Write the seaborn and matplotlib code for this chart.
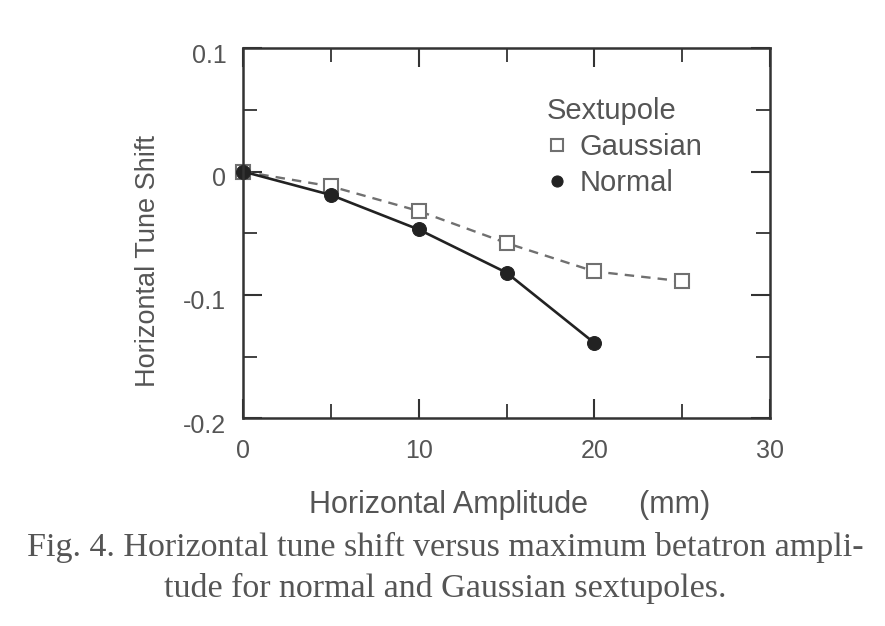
import matplotlib
matplotlib.use("Agg")
import matplotlib.pyplot as plt
import matplotlib.transforms as mtransforms
import seaborn as sns
import pandas as pd
from matplotlib.ticker import MultipleLocator

# Data
amp_normal = [0, 5, 10, 15, 20]
shift_normal = [0.0, -0.019, -0.047, -0.082, -0.139]
amp_gauss = [0, 5, 10, 15, 20, 25]
shift_gauss = [0.0, -0.012, -0.032, -0.058, -0.081, -0.089]

df = pd.DataFrame({
    "amp": amp_gauss + amp_normal,
    "shift": shift_gauss + shift_normal,
    "Sextupole": ["Gaussian"] * len(amp_gauss) + ["Normal"] * len(amp_normal),
})

sns.set_style("white")
plt.rcParams["font.family"] = ["Liberation Sans", "DejaVu Sans"]

fig = plt.figure(figsize=(8.85, 6.26), dpi=100)
ax = fig.add_axes([0.2746, 0.332, 0.5955, 0.591])

ink = "#333333"
txt = "#555555"
sns.lineplot(data=df[df.Sextupole == "Gaussian"], x="amp", y="shift", ax=ax,
             color="#707070", linestyle=(0, (4, 3)), linewidth=1.7,
             marker="s", markersize=10, markerfacecolor="white",
             markeredgecolor="#707070", markeredgewidth=1.5, label="Gaussian",
             clip_on=False)
sns.lineplot(data=df[df.Sextupole == "Normal"], x="amp", y="shift", ax=ax,
             color="#222222", linestyle="-", linewidth=1.9,
             marker="o", markersize=10, markerfacecolor="#222222",
             markeredgecolor="#222222", label="Normal", clip_on=False)

ax.set_xlim(0, 30)
ax.set_ylim(-0.2, 0.1)
ax.xaxis.set_minor_locator(MultipleLocator(5))
ax.yaxis.set_minor_locator(MultipleLocator(0.05))
ax.set_xticks([0, 10, 20, 30])
ax.set_xticklabels(["0", "10", "20", "30"])
ax.set_yticks([-0.2, -0.1, 0, 0.1])
ax.set_yticklabels(["-0.2", "-0.1", "0", "0.1"])
ax.tick_params(which="both", direction="in", top=True, right=True,
               bottom=True, left=True, colors=ink, labelcolor=txt,
               labelsize=18)
ax.tick_params(which="major", length=14, width=1.5)
ax.tick_params(which="minor", length=10, width=1.3)
ax.tick_params(axis="x", which="major", pad=15)
ax.tick_params(axis="y", which="major", pad=12)
for s in ax.spines.values():
    s.set_color(ink)
    s.set_linewidth(1.8)

# scanned labels sit a little below their ticks
off = mtransforms.ScaledTranslation(0, -5 / 100, fig.dpi_scale_trans)
for lab in ax.get_yticklabels():
    lab.set_transform(lab.get_transform() + off)

ax.set_xlabel("Horizontal Amplitude      (mm)", fontsize=22, color=txt)
ax.xaxis.set_label_coords(0.505, -0.195)
ax.set_ylabel("Horizontal Tune Shift", fontsize=19.5, color=txt)
ax.yaxis.set_label_coords(-0.155, 0.425)

leg = ax.legend(title="Sextupole", loc="upper left",
                bbox_to_anchor=(0.555, 0.9), frameon=False, fontsize=21,
                title_fontsize=21, handlelength=0.7, handletextpad=0.4,
                labelspacing=0.28, labelcolor=txt, borderaxespad=0)
leg.get_title().set_color(txt)
leg._legend_box.align = "left"
for h in leg.legend_handles:
    h.set_linestyle("None")
    h.set_markersize(8)

fig.text(0.503, 0.126, "Fig. 4. Horizontal tune shift versus maximum betatron ampli-",
         ha="center", va="center", fontsize=24.5, color=txt,
         family=["Liberation Serif", "DejaVu Serif"])
fig.text(0.503, 0.06, "tude for normal and Gaussian sextupoles.",
         ha="center", va="center", fontsize=24.5, color=txt,
         family=["Liberation Serif", "DejaVu Serif"])

fig.savefig("out.png", dpi=100)
